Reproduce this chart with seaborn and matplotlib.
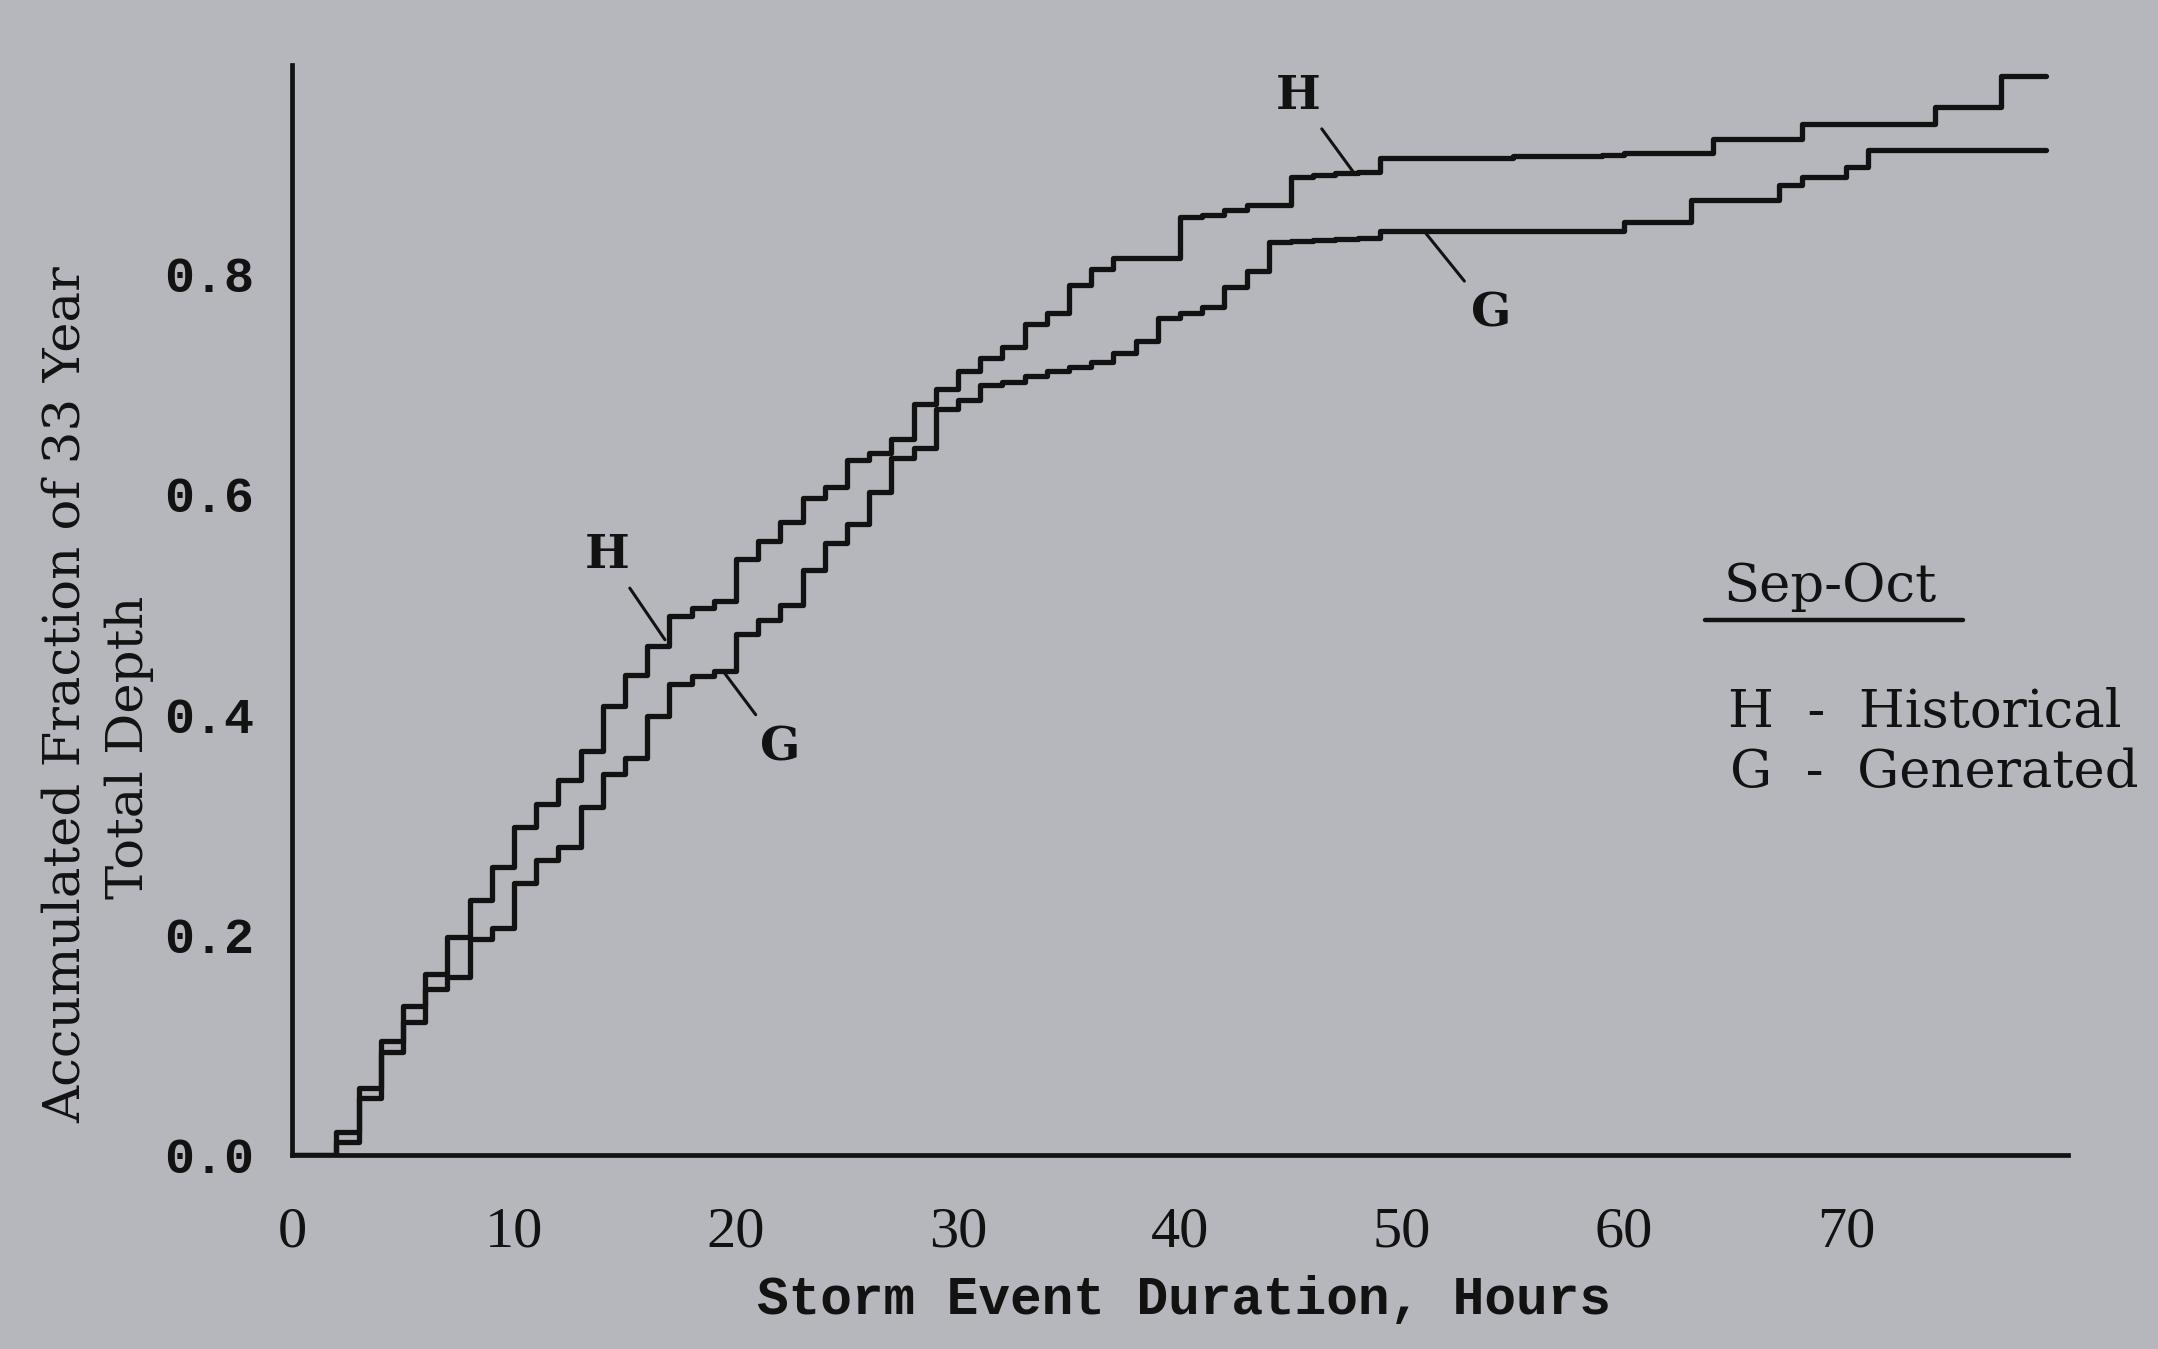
import numpy as np
import pandas as pd
import matplotlib
matplotlib.use("Agg")
import matplotlib.pyplot as plt
import seaborn as sns
from matplotlib.lines import Line2D

# ---------------- data ----------------
hours = list(range(0, 80))

historical = [
    0.000, 0.000, 0.021, 0.061, 0.104, 0.135, 0.164, 0.198, 0.232, 0.262,
    0.298, 0.319, 0.341, 0.367, 0.408, 0.436, 0.462, 0.490, 0.497, 0.503,
    0.541, 0.558, 0.575, 0.597, 0.607, 0.631, 0.638, 0.650, 0.682, 0.696,
    0.712, 0.724, 0.734, 0.755, 0.765, 0.790, 0.805, 0.815, 0.815, 0.815,
    0.852, 0.854, 0.858, 0.863, 0.863, 0.888, 0.890, 0.892, 0.893, 0.906,
    0.906, 0.906, 0.906, 0.906, 0.906, 0.907, 0.907, 0.907, 0.907, 0.908,
    0.910, 0.910, 0.910, 0.910, 0.923, 0.923, 0.923, 0.923, 0.936, 0.936,
    0.936, 0.936, 0.936, 0.936, 0.952, 0.952, 0.952, 0.980, 0.980, 0.980,
]

generated = [
    0.000, 0.000, 0.012, 0.052, 0.094, 0.121, 0.151, 0.162, 0.196, 0.206,
    0.247, 0.268, 0.280, 0.316, 0.346, 0.361, 0.399, 0.428, 0.435, 0.440,
    0.473, 0.486, 0.500, 0.531, 0.556, 0.573, 0.602, 0.633, 0.642, 0.678,
    0.686, 0.699, 0.702, 0.708, 0.712, 0.716, 0.720, 0.728, 0.739, 0.760,
    0.765, 0.770, 0.788, 0.803, 0.829, 0.830, 0.831, 0.832, 0.833, 0.839,
    0.839, 0.839, 0.839, 0.839, 0.839, 0.839, 0.839, 0.839, 0.839, 0.839,
    0.847, 0.847, 0.847, 0.867, 0.867, 0.867, 0.867, 0.881, 0.888, 0.888,
    0.897, 0.913, 0.913, 0.913, 0.913, 0.913, 0.913, 0.913, 0.913, 0.913,
]

x_ticks = [0, 10, 20, 30, 40, 50, 60, 70]
y_ticks = [0.0, 0.2, 0.4, 0.6, 0.8]
y_tick_labels = ["0.0", "0.2", "0.4", "0.6", "0.8"]

x_label = "Storm Event Duration, Hours"
y_label_1 = "Accumulated Fraction of 33 Year"
y_label_2 = "Total Depth"
legend_title = "Sep-Oct"
legend_lines = ["H  -  Historical", "G  -  Generated"]

# ---------------- style ----------------
sns.set_theme(style="white")
plt.rcParams["font.family"] = ["Liberation Serif", "DejaVu Serif"]

BG = "#b6b7bc"
INK = "#121212"

fig = plt.figure(figsize=(21.58, 13.49), dpi=100, facecolor=BG)
# axes: left edge 292 px, right 2068 px, bottom 1155 px, top 65 px
ax = fig.add_axes([0.1353, 0.1438, 0.8230, 0.8080])
ax.set_facecolor(BG)

df = pd.DataFrame({
    "hours": hours + hours,
    "fraction": historical + generated,
    "series": ["H"] * len(hours) + ["G"] * len(hours),
})

sns.lineplot(
    data=df, x="hours", y="fraction", hue="series",
    palette={"H": INK, "G": INK}, estimator=None, legend=False,
    drawstyle="steps-post", linewidth=3.8, ax=ax,
)

ax.set_xlim(0, 80)
ax.set_ylim(0, 0.99)

for side in ["top", "right"]:
    ax.spines[side].set_visible(False)
for side in ["left", "bottom"]:
    ax.spines[side].set_color(INK)
    ax.spines[side].set_linewidth(3.4)

ax.set_xticks(x_ticks)
ax.set_xticklabels([str(t) for t in x_ticks], fontfamily="Liberation Serif",
                   fontsize=42, color=INK)
ax.set_yticks(y_ticks)
ax.set_yticklabels(y_tick_labels, fontfamily="Liberation Mono",
                   fontweight="bold", fontsize=36, color=INK)
ax.tick_params(axis="both", direction="out", length=15, width=2.4, color=INK)
ax.tick_params(axis="x", pad=22)
ax.tick_params(axis="y", pad=12)
ax.grid(False)

# axis labels
ax.set_xlabel(x_label, fontfamily="Liberation Mono", fontweight="bold",
              fontsize=38, color=INK)
ax.xaxis.set_label_coords(0.5022, -0.133)
ax.xaxis.label.set_va("center")

ax.set_ylabel(y_label_1, fontfamily="DejaVu Serif", fontsize=37, color=INK)
ax.yaxis.set_label_coords(-0.1270, 0.422)
ax.yaxis.label.set_va("center")
fig.text(0.0600, 0.4463, y_label_2, rotation=90, ha="center", va="center",
         fontfamily="DejaVu Serif", fontsize=37, color=INK)

# curve annotations
ann_kw = dict(fontfamily="DejaVu Serif", fontweight="bold", fontsize=34,
              color=INK, ha="center", va="center",
              arrowprops=dict(arrowstyle="-", color=INK, lw=2.2,
                              shrinkA=6, shrinkB=0))
ax.annotate("H", xy=(47.8, 0.893), xytext=(45.3, 0.962), **ann_kw)
ax.annotate("H", xy=(16.8, 0.468), xytext=(14.2, 0.545), **ann_kw)
ax.annotate("G", xy=(51.0, 0.839), xytext=(54.0, 0.764), **ann_kw)
ax.annotate("G", xy=(19.4, 0.440), xytext=(22.0, 0.370), **ann_kw)

# hand-made legend block
fig.text(0.848, 0.5649, legend_title, ha="center", va="center",
         fontfamily="DejaVu Serif", fontsize=38, color=INK)
fig.add_artist(Line2D([0.790, 0.9096], [0.5404, 0.5404],
                      transform=fig.transFigure, color=INK, lw=3.2))
fig.text(0.8007, 0.4722, legend_lines[0], ha="left", va="center",
         fontfamily="DejaVu Serif", fontsize=38, color=INK)
fig.text(0.8017, 0.4270, legend_lines[1], ha="left", va="center",
         fontfamily="DejaVu Serif", fontsize=38, color=INK)

fig.savefig("out.png", dpi=100, facecolor=BG)
